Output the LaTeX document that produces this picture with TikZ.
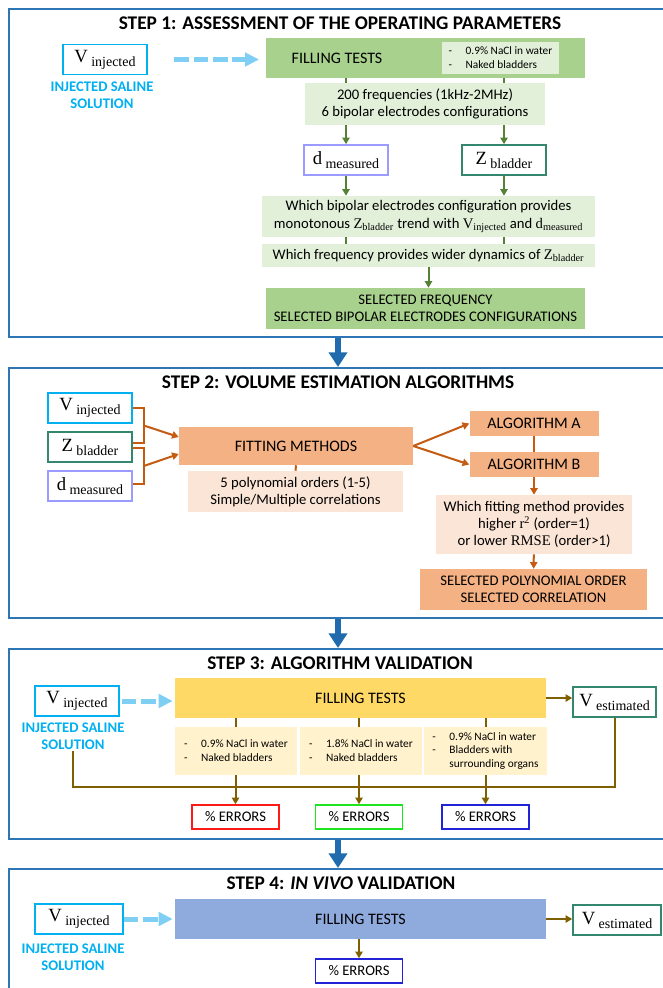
\documentclass[tikz,border=0pt]{standalone}
\usepackage{fontspec}
\setmainfont{Carlito}
\newfontfamily\timesf{Liberation Serif}
\usetikzlibrary{arrows.meta, calc}

\definecolor{frameblue}{HTML}{2E75B6}
\definecolor{arrowblue}{HTML}{1F6BAE}
\definecolor{salinecyan}{HTML}{00B0F0}
\definecolor{dashcyan}{HTML}{7FCFF4}
\definecolor{greenbox}{HTML}{A9D18E}
\definecolor{greenlight}{HTML}{E2F0D9}
\definecolor{greenline}{HTML}{548235}
\definecolor{orangebox}{HTML}{F4B183}
\definecolor{orangelight}{HTML}{FBE5D6}
\definecolor{orangeline}{HTML}{C55A11}
\definecolor{yellowbox}{HTML}{FFD966}
\definecolor{yellowlight}{HTML}{FFF2CC}
\definecolor{brownline}{HTML}{7F6000}
\definecolor{bluebox}{HTML}{8FAADC}
\definecolor{tealedge}{HTML}{35866E}
\definecolor{lavedge}{HTML}{9B9BFF}
\definecolor{errred}{HTML}{FF1A1A}
\definecolor{errgreen}{HTML}{1EE61E}
\definecolor{errblue}{HTML}{2222D6}

\newcommand{\symsub}[2]{{\timesf\fontsize{14}{14}\selectfont #1\hspace{2.5pt}\raisebox{-3pt}{\fontsize{10.5}{12}\selectfont #2}}}
\newcommand{\inlsym}[2]{{\timesf #1\textsubscript{#2}}}
\newcommand{\dashitem}[1]{\makebox[12.75pt][l]{-}#1}

\begin{document}
\begin{tikzpicture}[x=0.75pt, y=-0.75pt,
  stepframe/.style={draw=frameblue, line width=1.3pt, anchor=north west, minimum width=500pt},
  steptitle/.style={font=\fontsize{14.5}{17}\selectfont\bfseries},
  varbox/.style={draw, line width=1.2pt, fill=white, minimum width=63pt, minimum height=22.5pt, inner sep=1pt},
  saline/.style={text=salinecyan, font=\fontsize{11}{12.75}\selectfont\bfseries, align=center, inner sep=1pt},
  boxtext/.style={font=\fontsize{11}{12.75}\selectfont, align=center, inner sep=1pt},
  boxbig/.style={font=\fontsize{12}{14}\selectfont, inner sep=1pt},
  condbox/.style={font=\fontsize{8.5}{10.4}\selectfont, align=left, inner sep=1pt},
  errbox/.style={draw, line width=1.2pt, fill=white, minimum width=65.25pt, minimum height=18pt, font=\fontsize{11}{13}\selectfont, inner sep=1pt},
  bigarrow/.style={draw=arrowblue, line width=4.5pt, -{Triangle[length=11pt,width=13.5pt]}},
  injectarrow/.style={draw=dashcyan, line width=3.75pt, dash pattern=on 11pt off 3.5pt, -{Triangle[length=10.5pt,width=10pt]}},
  greenlink/.style={draw=greenline, line width=1.5pt},
  greenarrow/.style={greenlink, -{Triangle[length=5pt,width=5.5pt]}},
  orangelink/.style={draw=orangeline, line width=1.5pt},
  orangearrow/.style={orangelink, -{Triangle[length=5pt,width=5.5pt]}},
  brownlink/.style={draw=brownline, line width=1.5pt},
  brownarrow/.style={brownlink, -{Triangle[length=5pt,width=5.5pt]}}]
  \useasboundingbox (0,0) rectangle (663,988);
  \clip (0,0) rectangle (663,988);

  % frames and titles
  \node[stepframe, minimum height=246pt] (step1) at (8,8) {};
  \node[stepframe, minimum height=187.5pt] (step2) at (8,367) {};
  \node[stepframe, minimum height=142.5pt] (step3) at (8,648) {};
  \node[stepframe, minimum height=99pt] (step4) at (8,868) {};
  \node[steptitle] (t1) at (340,23) {STEP 1: ASSESSMENT OF THE OPERATING PARAMETERS};
  \node[steptitle] (t2) at (338,382) {STEP 2: VOLUME ESTIMATION ALGORITHMS};
  \node[steptitle] (t3) at (340,663) {STEP 3: ALGORITHM VALIDATION};
  \node[steptitle] (t4) at (341,883) {STEP 4: \textit{IN VIVO} VALIDATION};
  \draw[bigarrow] (step1.south -| t2) -- (step2.north -| t2);
  \draw[bigarrow] (step2.south -| t2) -- (step3.north -| t2);
  \draw[bigarrow] (step3.south -| t2) -- (step4.north -| t2);

  % step 1
  \node[varbox, draw=salinecyan] (vin1) at (105,59.5) {\symsub{V}{injected}};
  \node[saline] (sal1) at (102,95.5) {INJECTED SALINE\\SOLUTION};
  \node[fill=greenbox, minimum width=239.25pt, minimum height=30pt] (fill1) at (425.5,58) {};
  \node[boxbig] (fill1t) at (337,58) {FILLING TESTS};
  \node[condbox, fill=greenlight, minimum width=87.75pt, minimum height=24pt] (cond1) at (500.5,58)
    {\dashitem{0.9\% NaCl in water}\\\dashitem{Naked bladders}};
  \node[boxtext, fill=greenlight, minimum width=180pt, minimum height=31.5pt] (freq) at (425,104)
    {200 frequencies (1kHz-2MHz)\\6 bipolar electrodes configurations};
  \node[varbox, draw=lavedge] (dmeas1) at (346,160) {\symsub{d}{measured}};
  \node[varbox, draw=tealedge] (zbl1) at (504,160) {\symsub{Z}{bladder}};
  \node[boxtext, font=\fontsize{11}{14}\selectfont, fill=greenlight, minimum width=249.75pt, minimum height=30.75pt] (trend) at (428.5,216.5)
    {Which bipolar electrodes configuration provides\\monotonous \inlsym{Z}{bladder} trend with \inlsym{V}{injected} and \inlsym{d}{measured}};
  \node[boxtext, fill=greenlight, minimum width=249.75pt, minimum height=17.25pt] (dyn) at (428.5,255.5)
    {Which frequency provides wider dynamics of \inlsym{Z}{bladder}};
  \node[boxtext, fill=greenbox, minimum width=239.25pt, minimum height=30.75pt] (sel1) at (425.5,308.5)
    {SELECTED FREQUENCY\\SELECTED BIPOLAR ELECTRODES CONFIGURATIONS};
  \draw[injectarrow, shorten <=20pt, shorten >=5pt] (vin1.east) -- (vin1.east -| fill1.west);
  \foreach \v in {dmeas1, zbl1} {
    \draw[greenlink] (fill1.south -| \v) -- (freq.north -| \v);
    \draw[greenarrow] (freq.south -| \v) -- (\v.north);
    \draw[greenarrow] (\v.south) -- (trend.north -| \v);
    \draw[greenlink] (trend.south -| \v) -- (dyn.north -| \v);
  }
  \draw[greenarrow] (dyn.south) -- (dyn.south |- sel1.north);

  % step 2
  \node[varbox, draw=salinecyan] (vin2) at (90,408) {\symsub{V}{injected}};
  \node[varbox, draw=tealedge] (zbl2) at (90,447) {\symsub{Z}{bladder}};
  \node[varbox, draw=lavedge] (dm2) at (90,486) {\symsub{d}{measured}};
  \node[boxbig, fill=orangebox, minimum width=175.5pt, minimum height=28.5pt] (fit) at (296,446) {FITTING METHODS};
  \node[boxtext, fill=orangelight, minimum width=161.25pt, minimum height=30.75pt] (poly) at (295.5,491.5)
    {5 polynomial orders (1-5)\\Simple/Multiple correlations};
  \node[boxbig, fill=orangebox, minimum width=96.75pt, minimum height=18.75pt] (algA) at (534,423.5) {ALGORITHM A};
  \node[boxbig, fill=orangebox, minimum width=96.75pt, minimum height=18.75pt] (algB) at (534,464.5) {ALGORITHM B};
  \node[boxtext, font=\fontsize{11}{13}\selectfont, fill=orangelight, minimum width=147pt, minimum height=44.25pt] (crit) at (534,524.5)
    {Which fitting method provides\\higher {\timesf r\textsuperscript{2}} (order=1)\\or lower {\timesf RMSE} (order>1)};
  \node[boxtext, fill=orangebox, minimum width=170.25pt, minimum height=30.75pt] (sel2) at (533.5,589.5)
    {SELECTED POLYNOMIAL ORDER\\SELECTED CORRELATION};
  \draw[orangelink] (vin2.east) -- ++(11,0) |- ($(zbl2.east)+(0,-4)$);
  \draw[orangelink] ($(zbl2.east)+(0,1)$) -- ++(11,0) |- ($(dm2.east)+(0,-2)$);
  \draw[orangearrow] ($(vin2.east)+(11,17.5)$) -- ($(fit.west)+(0,-9)$);
  \draw[orangearrow] ($(dm2.east)+(11,-20)$) -- ($(fit.west)+(0,8)$);
  \draw[orangelink] (fit.south) -- (poly.north);
  \draw[orangearrow] (fit.east) -- (algA.west);
  \draw[orangearrow] (fit.east) -- (algB.west);
  \draw[orangelink] (algA) -- (algB);
  \draw[orangearrow] (algB) -- (crit);
  \draw[orangearrow] (crit) -- (sel2);

  % step 3
  \node[varbox, draw=salinecyan] (vin3) at (77,701) {\symsub{V}{injected}};
  \node[saline] (sal3) at (73,736.5) {INJECTED SALINE\\SOLUTION};
  \node[boxbig, fill=yellowbox, minimum width=278.25pt, minimum height=30pt] (fill3) at (360.5,698) {FILLING TESTS};
  \node[condbox, fill=yellowlight, minimum width=91.5pt, minimum height=36pt] (c31) at (236,751)
    {\dashitem{0.9\% NaCl in water}\\\dashitem{Naked bladders}};
  \node[condbox, fill=yellowlight, minimum width=91.5pt, minimum height=36pt] (c32) at (361,751)
    {\dashitem{1.8\% NaCl in water}\\\dashitem{Naked bladders}};
  \node[condbox, fill=yellowlight, minimum width=92.25pt, minimum height=36pt] (c33) at (485.5,751)
    {\dashitem{0.9\% NaCl in water}\\\dashitem{Bladders with}\\\makebox[12.75pt]{}surrounding organs};
  \node[errbox, draw=errred] (err31) at (235.5,817) {\% ERRORS};
  \node[errbox, draw=errgreen] (err32) at (359,817) {\% ERRORS};
  \node[errbox, draw=errblue] (err33) at (485.5,817) {\% ERRORS};
  \node[varbox, draw=tealedge, minimum width=62.25pt] (vest3) at (614.5,702) {\symsub{V}{estimated}};
  \draw[injectarrow, shorten <=1.5pt, shorten >=1.5pt] (vin3.east) -- (vin3.east -| fill3.west);
  \draw[brownarrow] (fill3.east) -- (fill3.east -| vest3.west);
  \foreach \c/\e in {c31/err31, c32/err32, c33/err33} {
    \draw[brownlink] (fill3.south -| \e) -- (\c.north -| \e);
    \draw[brownarrow] (\c.south -| \e) -- (\e.north);
  }
  \coordinate (bus3) at (0,787);
  \draw[brownlink] (sal3.south) |- (bus3 -| vest3) -- (vest3.south);

  % step 4
  \node[varbox, draw=salinecyan, minimum width=66pt] (vin4) at (79,919) {\symsub{V}{injected}};
  \node[saline] (sal4) at (73,957.5) {INJECTED SALINE\\SOLUTION};
  \node[boxbig, fill=bluebox, minimum width=278.25pt, minimum height=30pt] (fill4) at (360.5,919) {FILLING TESTS};
  \node[varbox, draw=tealedge, minimum width=66pt] (vest4) at (617,920) {\symsub{V}{estimated}};
  \node[errbox, draw=errblue] (err4) at (359,971) {\% ERRORS};
  \draw[injectarrow, shorten >=1.5pt] (vin4.east) -- (vin4.east -| fill4.west);
  \draw[brownarrow] (fill4.east) -- (fill4.east -| vest4.west);
  \draw[brownarrow] (fill4.south -| err4) -- (err4.north);
\end{tikzpicture}
\end{document}
